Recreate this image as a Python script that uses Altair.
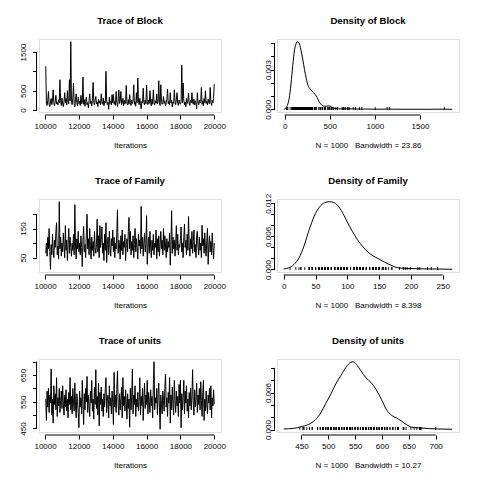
import altair as alt
import pandas as pd

# ---------------- data ----------------
iter_start, iter_step = 10040, 40

block_trace = [
    1135, 180, 120, 250, 480, 150, 90, 210, 300, 140, 260, 520, 170, 110, 230, 380, 160, 200, 130, 270, 190, 786, 240, 120, 310,
    150, 90, 220, 450, 180, 300, 130, 500, 210, 160, 786, 240, 1770, 200, 140, 290, 700, 170, 80, 260, 420, 190, 110, 330, 170,
    230, 120, 380, 160, 200, 855, 150, 270, 100, 220, 340, 140, 190, 60, 250, 420, 170, 230, 110, 300, 716, 190, 130, 260, 350,
    160, 210, 90, 280, 180, 240, 130, 420, 200, 150, 310, 110, 230, 190, 1004, 260, 140, 200, 20, 330, 170, 240, 130, 400, 190,
    400, 150, 220, 120, 480, 200, 90, 260, 520, 170, 230, 480, 140, 190, 300, 110, 250, 160, 210, 637, 180, 130, 270, 150, 400,
    200, 120, 260, 170, 230, 655, 150, 210, 100, 450, 190, 829, 240, 140, 300, 170, 30, 220, 180, 567, 200, 130, 260, 160, 650,
    210, 140, 250, 170, 500, 190, 110, 280, 150, 524, 200, 130, 240, 180, 420, 160, 220, 760, 190, 120, 655, 230, 150, 200, 350,
    170, 240, 110, 200, 290, 541, 160, 220, 130, 450, 190, 250, 80, 210, 170, 524, 230, 140, 270, 450, 180, 120, 260, 200, 150,
    220, 1161, 190, 700, 250, 140, 210, 90, 300, 170, 230, 440, 160, 120, 260, 190, 450, 210, 150, 280, 130, 240, 180, 35, 450,
    200, 140, 260, 180, 220, 585, 150, 240, 110, 300, 190, 500, 170, 230, 130, 280, 200, 160, 585, 210, 120, 250, 190, 300, 672,
]

family_trace = [
    65, 100, 55, 120, 80, 150, 70, 10, 95, 60, 130, 75, 50, 110, 85, 140, 170, 60, 90, 45, 242, 80, 120, 55, 100,
    70, 135, 90, 50, 160, 75, 110, 40, 95, 150, 65, 120, 85, 55, 100, 75, 130, 60, 232, 90, 45, 115, 80, 140, 70,
    100, 60, 125, 85, 19, 110, 157, 70, 95, 50, 135, 199, 80, 115, 60, 150, 90, 45, 120, 75, 105, 55, 140, 85, 65,
    95, 182, 70, 125, 50, 160, 85, 110, 155, 65, 100, 40, 130, 75, 170, 33, 95, 120, 60, 140, 85, 55, 115, 90, 145,
    70, 120, 50, 100, 80, 135, 214, 65, 110, 90, 45, 125, 75, 145, 60, 105, 85, 130, 40, 95, 115, 70, 140, 188, 80,
    140, 60, 105, 75, 125, 50, 95, 150, 70, 115, 85, 45, 130, 90, 110, 65, 226, 80, 120, 55, 100, 135, 70, 95, 194,
    27, 85, 120, 65, 140, 90, 50, 110, 75, 130, 60, 100, 85, 145, 45, 115, 70, 125, 55, 95, 140, 80, 110, 60, 150,
    75, 125, 90, 50, 115, 70, 105, 85, 135, 24, 95, 211, 65, 120, 80, 110, 55, 100, 160, 75, 130, 60, 95, 85, 115,
    155, 70, 100, 50, 120, 165, 85, 110, 60, 130, 75, 191, 90, 55, 115, 80, 140, 65, 105, 145, 70, 95, 50, 125, 140,
    85, 60, 120, 75, 100, 50, 161, 90, 115, 65, 135, 80, 55, 110, 150, 27, 95, 125, 70, 105, 60, 135, 85, 45, 100,
]

units_trace = [
    560, 480, 590, 530, 600, 510, 575, 545, 673, 500, 560, 470, 610, 540, 580, 520, 640, 495, 565, 535, 600, 510, 555, 590, 525,
    610, 545, 500, 575, 530, 595, 515, 560, 490, 585, 540, 641, 520, 570, 505, 600, 545, 515, 620, 535, 490, 580, 550, 510, 453,
    590, 530, 565, 505, 630, 540, 465, 580, 520, 600, 550, 645, 510, 575, 535, 495, 590, 545, 630, 515, 560, 485, 605, 540, 670,
    525, 570, 500, 620, 460, 585, 540, 605, 515, 560, 495, 580, 530, 600, 640, 510, 555, 575, 490, 610, 535, 565, 505, 590, 545,
    465, 660, 530, 575, 510, 595, 665, 540, 500, 580, 520, 560, 605, 490, 640, 535, 570, 515, 595, 545, 485, 580, 525, 560, 455,
    600, 520, 565, 672, 505, 575, 540, 610, 495, 560, 530, 585, 515, 550, 640, 500, 570, 535, 600, 480, 560, 620, 525, 575, 540,
    630, 505, 585, 550, 510, 595, 535, 570, 490, 615, 700, 520, 565, 545, 600, 500, 580, 620, 530, 447, 575, 540, 505, 590, 555,
    515, 600, 654, 530, 565, 495, 585, 545, 640, 470, 575, 520, 605, 540, 500, 630, 555, 510, 590, 535, 570, 495, 615, 545, 630,
    453, 580, 520, 565, 630, 505, 590, 545, 610, 515, 560, 490, 585, 535, 600, 520, 570, 670, 540, 500, 595, 530, 565, 620, 510,
    575, 540, 600, 520, 625, 555, 495, 585, 630, 480, 560, 515, 590, 540, 505, 575, 545, 600, 520, 610, 490, 565, 535, 595, 540,
]

block_dens_x = [-10, 10, 30, 50, 70, 90, 110, 130, 145, 160, 180, 200, 220, 240, 260, 280, 300, 320, 340, 360, 380, 400,
                420, 440, 460, 480, 500, 520, 540, 560, 600, 650, 700, 750, 800, 900, 1000, 1100, 1150, 1200, 1300, 1400,
                1500, 1600, 1700, 1770, 1858]
block_dens_y = [0.00001, 0.00007, 0.0003, 0.0008, 0.0019, 0.0033, 0.0045, 0.0050, 0.0051, 0.0050, 0.0045, 0.0038, 0.0030,
                0.0023, 0.0018, 0.00155, 0.0014, 0.00125, 0.0011, 0.0009, 0.0006, 0.0004, 0.00028, 0.00024, 0.00024,
                0.00026, 0.00025, 0.00018, 0.0001, 0.00006, 0.00004, 0.00004, 0.00004, 0.00003, 0.00002, 0.00002,
                0.00001, 0.00001, 0.00002, 0.00001, 0.000005, 0.000005, 0.000005, 0.000003, 0.00001, 0.00001, 0.000002]

family_dens_x = [0, 8, 16, 24, 32, 40, 48, 56, 64, 72, 78, 85, 92, 100, 108, 116, 124, 132, 140, 148, 156, 164, 172,
                 180, 195, 215, 240, 265]
family_dens_y = [0.0001, 0.0003, 0.0009, 0.0021, 0.0043, 0.0072, 0.0097, 0.0113, 0.0121, 0.0123, 0.0122, 0.0116,
                 0.0104, 0.0086, 0.0069, 0.0054, 0.0042, 0.0032, 0.0025, 0.0020, 0.0015, 0.0010, 0.0006, 0.0003,
                 0.00018, 0.00012, 0.00008, 0.00003]

units_dens_x = [417, 435, 451, 467, 476, 486, 495, 505, 514, 523, 533, 542, 546, 552, 561, 570, 580, 589, 599, 608,
                618, 627, 636, 646, 655, 668, 687, 705, 731]
units_dens_y = [0.0001, 0.0002, 0.0005, 0.001, 0.0016, 0.0027, 0.0042, 0.0058, 0.0074, 0.0087, 0.0101, 0.0109,
                0.0110, 0.0106, 0.0095, 0.0084, 0.0076, 0.0065, 0.0049, 0.0033, 0.0023, 0.0019, 0.0014, 0.0008,
                0.0004, 0.0003, 0.00016, 0.0001, 0.00005]

trace_xticks = [10000, 12000, 14000, 16000, 18000, 20000]

block_yticks, block_ylabels = [0, 500, 1000, 1500], [0, 500, 1500]
family_yticks, family_ylabels = [50, 100, 150, 200], [50, 150]
units_yticks, units_ylabels = [450, 500, 550, 600, 650, 700], [450, 550, 650]

block_dxticks = [0, 500, 1000, 1500]
family_dxticks = [0, 50, 100, 150, 200, 250]
units_dxticks = [450, 500, 550, 600, 650, 700]

block_dyticks, block_dylabels = [0, 0.001, 0.002, 0.003, 0.004, 0.005], [0, 0.003]
family_dyticks, family_dylabels = [0, 0.002, 0.004, 0.006, 0.008, 0.010, 0.012], [0, 0.006, 0.012]
units_dyticks, units_dylabels = [0, 0.002, 0.004, 0.006, 0.008, 0.010], [0, 0.006]

n_samples = 1000
bandwidths = {"Block": "23.86", "Family": "8.398", "units": "10.27"}

# ---------------- styling ----------------
W, H = 182, 73
FONT = "Liberation Sans"
XOFF, YOFF = 3, 2.5


def r_domain(vals):
    lo, hi = min(vals), max(vals)
    r = hi - lo
    return [lo - 0.04 * r, hi + 0.04 * r]


def label_expr(shown):
    return "indexof([" + ",".join(repr(v) for v in shown) + "], datum.value) >= 0 ? datum.label : ''"


def x_axis(values, fmt, title):
    return alt.Axis(values=values, format=fmt, title=title, domain=False, grid=False,
                    tickSize=4, tickColor="black", tickWidth=1, offset=XOFF,
                    labelFont=FONT, labelFontSize=8, labelColor="black", labelPadding=3,
                    labelOverlap=False, labelFlush=False,
                    titleFont=FONT, titleFontSize=8, titleFontWeight="normal", titleColor="black",
                    titlePadding=11.5)


def y_axis(values, shown, fmt, pad):
    return alt.Axis(values=values, format=fmt, title=None, domain=False, grid=False,
                    tickSize=4, tickColor="black", tickWidth=1, offset=YOFF,
                    labelFont=FONT, labelFontSize=8, labelColor="black",
                    labelAngle=270, labelAlign="center", labelBaseline="bottom",
                    labelPadding=pad, labelOverlap=False, labelFlush=False,
                    labelExpr=label_expr(shown))


iters = list(range(iter_start, iter_start + iter_step * len(block_trace), iter_step))


def build_panel(main_df, xfield, yfield, xs, ys, xax, yax, xt, yt, extra, ttl, interp):
    base_x = alt.X(xfield + ":Q", scale=xs, axis=xax)
    base_y = alt.Y(yfield + ":Q", scale=ys, axis=yax)
    main = alt.Chart(main_df).mark_line(color="black", strokeWidth=1, interpolate=interp).encode(x=base_x, y=base_y)
    xl = alt.Chart(pd.DataFrame({xfield: [xt[0]], "end": [xt[-1]]})).mark_rule(
        color="black", strokeWidth=1).encode(x=base_x, x2="end:Q", y=alt.value(H + XOFF))
    yl = alt.Chart(pd.DataFrame({yfield: [yt[0]], "end": [yt[-1]]})).mark_rule(
        color="black", strokeWidth=1).encode(y=base_y, y2="end:Q", x=alt.value(-YOFF))
    head = alt.Chart(pd.DataFrame({"title": [ttl]})).mark_text(
        font=FONT, fontSize=9.6, fontWeight="bold", color="black", align="center", baseline="alphabetic").encode(
        text="title:N", x=alt.value(W / 2), y=alt.value(-15))
    layers = [main] + extra + [xl, yl, head]
    return alt.layer(*layers).properties(width=W, height=H)


def trace_panel(name, values, yticks, ylabels):
    df = pd.DataFrame({"iter": iters, "val": values})
    xs = alt.Scale(domain=r_domain(iters), nice=False, zero=False)
    ys = alt.Scale(domain=r_domain(values), nice=False, zero=False)
    return build_panel(df, "iter", "val", xs, ys,
                       x_axis(trace_xticks, "d", "Iterations"), y_axis(yticks, ylabels, "d", 5),
                       trace_xticks, yticks, [], "Trace of " + name, "linear")


def density_panel(name, values, dx, dy, xticks, yticks, ylabels):
    dens = pd.DataFrame({"x": dx, "y": dy})
    xs = alt.Scale(domain=r_domain(dx), nice=False, zero=False)
    ys = alt.Scale(domain=r_domain(dy), nice=False, zero=False)
    xtitle = "N = %d\u00a0\u00a0\u00a0Bandwidth = %s" % (n_samples, bandwidths[name])
    xax = x_axis(xticks, "d", xtitle)
    rug = alt.Chart(pd.DataFrame({"x": values})).mark_tick(
        color="black", size=3, thickness=1, opacity=0.9).encode(
        x=alt.X("x:Q", scale=xs, axis=xax), y=alt.value(H - 3.5))
    return build_panel(dens, "x", "y", xs, ys, xax, y_axis(yticks, ylabels, ".3f", -1.5),
                       xticks, yticks, [rug], "Density of " + name, "monotone")


panels = [
    trace_panel("Block", block_trace, block_yticks, block_ylabels),
    density_panel("Block", block_trace, block_dens_x, block_dens_y, block_dxticks, block_dyticks, block_dylabels),
    trace_panel("Family", family_trace, family_yticks, family_ylabels),
    density_panel("Family", family_trace, family_dens_x, family_dens_y, family_dxticks, family_dyticks, family_dylabels),
    trace_panel("units", units_trace, units_yticks, units_ylabels),
    density_panel("units", units_trace, units_dens_x, units_dens_y, units_dxticks, units_dyticks, units_dylabels),
]

chart = alt.concat(*panels, columns=2, spacing={"row": 87, "column": 56}, bounds="flush").properties(
    padding={"left": 10, "top": 7, "right": 5, "bottom": 5}
).configure_view(stroke="#5a5a5a", strokeWidth=1.8).configure(background="white")

chart.save("out.html", embed_options={"renderer": "svg", "actions": False})
